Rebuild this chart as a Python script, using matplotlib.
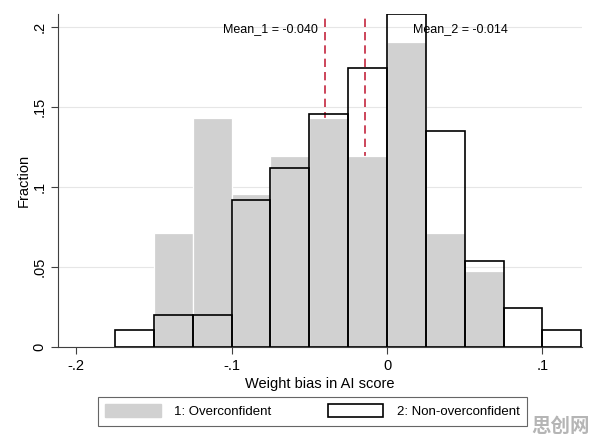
import matplotlib
matplotlib.use("Agg")
import matplotlib.pyplot as plt
import numpy as np
from matplotlib.patches import Patch

plt.rcParams['font.family'] = ['Liberation Sans', 'DejaVu Sans']

# Data
bin_edges = [-0.175, -0.15, -0.125, -0.1, -0.075, -0.05, -0.025, 0.0, 0.025, 0.05, 0.075, 0.1, 0.125]
overconfident = [0.0, 0.0714, 0.1429, 0.0952, 0.1190, 0.1429, 0.1190, 0.1905, 0.0714, 0.0476, 0.0, 0.0]
non_overconfident = [0.0102, 0.0200, 0.0200, 0.0917, 0.1115, 0.1452, 0.1742, 0.2077, 0.1350, 0.0535, 0.0244, 0.0102]
mean_1 = -0.040
mean_2 = -0.014
xticks = [-0.2, -0.1, 0.0, 0.1]
xtick_labels = ["-.2", "-.1", "0", ".1"]
yticks = [0, 0.05, 0.1, 0.15, 0.2]
ytick_labels = ["0", ".05", ".1", ".15", ".2"]

fig = plt.figure(figsize=(5.96, 4.45), dpi=100)
ax = fig.add_axes([0.0973, 0.2209, 0.8792, 0.7476])

edges = np.array(bin_edges)
lefts = edges[:-1]
widths = np.diff(edges)

ax.bar(lefts, overconfident, width=widths, align='edge', color='#d1d1d1',
       edgecolor='white', linewidth=0.9, zorder=3)
ax.bar(lefts, non_overconfident, width=widths, align='edge', facecolor='none',
       edgecolor='black', linewidth=1.2, zorder=4)

for m in (mean_1, mean_2):
    ax.axvline(m, color='#c4263e', linestyle=(0, (5, 3)), linewidth=1.2, zorder=2)

ax.text(mean_1 - 0.0045, 0.1986, "Mean_1 = %.3f" % mean_1, ha='right', va='center',
        fontsize=9, zorder=5)
ax.text(mean_2 + 0.0305, 0.1986, "Mean_2 = %.3f" % mean_2, ha='left', va='center',
        fontsize=9, zorder=5)

ax.set_xlim(-0.2116, 0.1254)
ax.set_ylim(0, 0.208)
ax.set_xticks(xticks)
ax.set_xticklabels(xtick_labels, fontsize=10.5)
ax.set_yticks(yticks)
ax.set_yticklabels(ytick_labels, fontsize=10.5, rotation=90, va='center')
ax.yaxis.grid(True, color='#e6e6e6', linewidth=0.8, zorder=0)
ax.set_axisbelow(True)
for s in ('top', 'right'):
    ax.spines[s].set_visible(False)
for s in ('left', 'bottom'):
    ax.spines[s].set_color('#404040')
    ax.spines[s].set_linewidth(0.8)
ax.tick_params(axis='both', colors='#404040', labelcolor='black', length=5, width=0.8)
ax.set_xlabel("Weight bias in AI score", fontsize=10.5, labelpad=3)
ax.set_ylabel("Fraction", fontsize=10.5, labelpad=1)

handles = [Patch(facecolor='#d1d1d1', edgecolor='#d1d1d1', label='1: Overconfident'),
           Patch(facecolor='white', edgecolor='black', linewidth=1.2, label='2: Non-overconfident')]
leg = fig.legend(handles=handles, loc='center', bbox_to_anchor=(0.5243, 0.0755), ncol=2,
                 fontsize=9.5, frameon=True, fancybox=False, edgecolor='#404040',
                 handlelength=4.2, handleheight=1.1, columnspacing=4.3, borderpad=0.55,
                 handletextpad=1.0)
leg.get_frame().set_linewidth(0.8)

fig.text(0.99, 0.02, "思创网", ha='right', va='bottom', fontsize=14, fontweight='bold',
         color='#b5b5b5', family=['Noto Sans CJK SC', 'DejaVu Sans'])

fig.savefig("out.png", dpi=100)
